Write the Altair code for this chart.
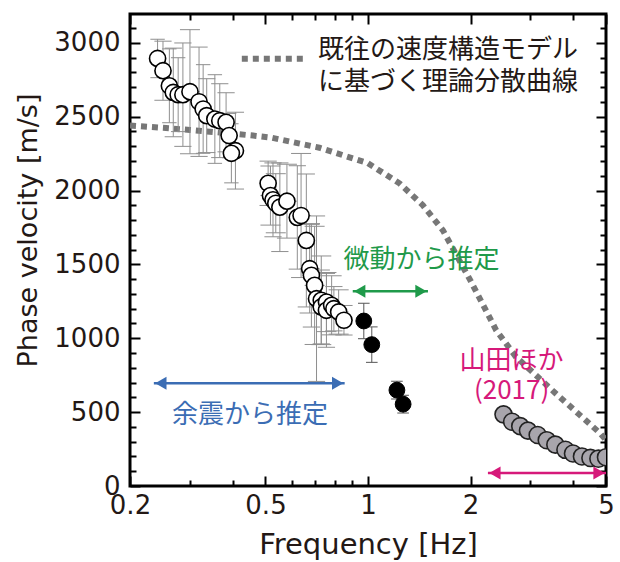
import altair as alt
import pandas as pd

# ---- data ----
# aftershock-based estimates (white circles)
ws_freq = [0.241, 0.250, 0.261, 0.268, 0.277, 0.286, 0.300, 0.319, 0.328, 0.336, 0.355, 0.367,
           0.383, 0.391, 0.408, 0.397,
           0.509, 0.517, 0.526, 0.536, 0.551, 0.578, 0.620, 0.636, 0.659, 0.674, 0.682, 0.697,
           0.706, 0.729, 0.729, 0.755, 0.755, 0.782, 0.794, 0.820, 0.850]
ws_vel = [2894, 2811, 2709, 2664, 2649, 2649, 2669, 2601, 2552, 2507, 2484, 2473,
          2462, 2372, 2270, 2252,
          2049, 1966, 1937, 1914, 1887, 1928, 1818, 1831, 1662, 1471, 1426, 1358,
          1268, 1257, 1212, 1245, 1189, 1223, 1200, 1178, 1122]
ws_err = [130, 200, 250, 300, 250, 350, 420, 370, 300, 250, 300, 250,
          200, 150, 260, 200,
          150, 200, 250, 200, 300, 250, 350, 420, 450, 300, 350, 400,
          560, 300, 250, 200, 250, 200, 150, 150, 100]
ws_ferr = [0.05, 0.06, 0.05, 0.06, 0.05, 0.06, 0.07, 0.06, 0.05, 0.06, 0.05, 0.06,
           0.06, 0.05, 0.06, 0.05,
           0.06, 0.07, 0.06, 0.07, 0.06, 0.07, 0.06, 0.07, 0.06, 0.07, 0.06, 0.07,
           0.06, 0.07, 0.06, 0.07, 0.06, 0.07, 0.06, 0.07, 0.06]

# microtremor-based estimates (black circles)
mt_freq = [0.972, 1.026, 1.216, 1.268]
mt_vel = [1117, 957, 649, 554]
mt_err = [120, 120, 60, 60]
mt_ferr = [0.04, 0.04, 0.04, 0.04]

# Yamada et al. (2017) (gray circles)
ym_freq = [2.50, 2.65, 2.80, 2.95, 3.15, 3.35, 3.55, 3.80, 4.00, 4.25, 4.50, 4.75, 5.00]
ym_vel = [485, 435, 405, 375, 345, 310, 280, 245, 220, 200, 190, 185, 195]

# theoretical dispersion curve (dashed)
cv_freq = [0.2, 0.25, 0.3, 0.4, 0.46, 0.52, 0.72, 1.0, 1.24, 1.45, 1.66, 2.0, 2.38, 2.72,
           3.2, 3.56, 4.2, 4.8, 5.0]
cv_vel = [2440, 2425, 2410, 2385, 2372, 2358, 2290, 2185, 2047, 1900, 1730, 1390, 1054, 874,
          725, 626, 478, 358, 311]

# axis ticks
x_major = [0.2, 0.5, 1, 2, 5]
x_minor = [0.3, 0.4, 0.6, 0.7, 0.8, 0.9, 3, 4]
y_major = [0, 500, 1000, 1500, 2000, 2500, 3000]
y_minor = [100, 200, 300, 400, 600, 700, 800, 900, 1100, 1200, 1300, 1400, 1600, 1700,
           1800, 1900, 2100, 2200, 2300, 2400, 2600, 2700, 2800, 2900, 3100]

# annotations
ann_text = ["既往の速度構造モデル", "に基づく理論分散曲線", "微動から推定", "余震から推定", "山田ほか", "(2017)"]
ann_x = [0.713, 0.713, 1.436, 0.450, 2.64, 2.64]
ann_y = [2950, 2738, 1527, 480, 848, 642]
ann_color = ["#231815", "#231815", "#1f9a4a", "#3b6db4", "#d6197a", "#d6197a"]
ann_align = ["left", "left", "center", "center", "center", "center"]

arr_x1 = [0.902, 0.235, 2.25]
arr_x2 = [1.50, 0.854, 5.0]
arr_y = [1318, 696, 88]
arr_color = ["#1f9a4a", "#3b6db4", "#d6197a"]

leg_x = [0.426, 0.652]
leg_y = [2892, 2892]

# ---- tables ----
W, H = 476, 472
FONT = "DejaVu Sans"
JFONT = "Noto Sans CJK JP"
INK = "#231815"

white = pd.DataFrame({"f": ws_freq, "v": ws_vel, "e": ws_err, "h": ws_ferr})
black = pd.DataFrame({"f": mt_freq, "v": mt_vel, "e": mt_err, "h": mt_ferr})
for d in (white, black):
    d["vlo"] = d["v"] - d["e"]
    d["vhi"] = d["v"] + d["e"]
    d["flo"] = d["f"] / (1 + d["h"])
    d["fhi"] = d["f"] * (1 + d["h"])
gray = pd.DataFrame({"f": ym_freq, "v": ym_vel})
curve = pd.DataFrame({"f": cv_freq, "v": cv_vel})
ann = pd.DataFrame({"t": ann_text, "f": ann_x, "v": ann_y, "c": ann_color, "a": ann_align})
arrows = pd.DataFrame({"f1": arr_x1, "f2": arr_x2, "v": arr_y, "c": arr_color})
legend = pd.DataFrame({"f": leg_x, "v": leg_y})

xs = alt.Scale(type="log", domain=[0.2, 5], nice=False)
ys = alt.Scale(domain=[0, 3195], nice=False, zero=False)


def X(field, axis=None):
    if axis is None:
        return alt.X(field, type="quantitative", scale=xs, axis=None)
    return alt.X(field, type="quantitative", scale=xs, axis=axis)


def Y(field, axis=None):
    if axis is None:
        return alt.Y(field, type="quantitative", scale=ys, axis=None)
    return alt.Y(field, type="quantitative", scale=ys, axis=axis)


# label axes
label_x_axis = alt.Axis(orient="bottom", values=x_major, ticks=False, domain=False, grid=False,
                        format="~g", labelFont=FONT, labelFontSize=26, labelColor=INK,
                        labelPadding=6, labelFlush=False, labelOverlap=False,
                        title="Frequency [Hz]", titleFont=FONT, titleFontSize=29,
                        titleFontWeight="normal", titleColor=INK, titleY=67,
                        titleBaseline="alphabetic")
label_y_axis = alt.Axis(orient="left", values=y_major, ticks=False, domain=False, grid=False,
                        format="d", labelFont=FONT, labelFontSize=26, labelColor=INK,
                        labelPadding=10, labelFlush=False, labelOverlap=False,
                        title="Phase velocity [m/s]", titleFont=FONT, titleFontSize=27,
                        titleFontWeight="normal", titleColor=INK, titleX=-94, titleY=216,
                        titleAngle=-90, titleAlign="center", titleBaseline="alphabetic")

base_curve = alt.Chart(curve).mark_line(
    color="#777777", strokeWidth=6, strokeDash=[6, 5], clip=True
).encode(x=X("f", label_x_axis), y=Y("v", label_y_axis))


def tick_layer(x_orient, y_orient, xv, yv, size):
    ax = alt.Axis(orient=x_orient, offset=-H, values=xv, labels=False, domain=False, grid=False,
                  ticks=True, tickSize=size, tickWidth=2, tickColor="black", title=None)
    ay = alt.Axis(orient=y_orient, offset=-W, values=yv, labels=False, domain=False, grid=False,
                  ticks=True, tickSize=size, tickWidth=2, tickColor="black", title=None)
    return alt.Chart(curve).mark_point(opacity=0).encode(x=X("f", ax), y=Y("v", ay))


ticks = [
    tick_layer("top", "right", x_major, y_major, 10),
    tick_layer("top", "right", x_minor, y_minor, 6),
    tick_layer("bottom", "left", x_major, y_major, 10),
    tick_layer("bottom", "left", x_minor, y_minor, 6),
]


def errbars(df, color):
    b = alt.Chart(df)
    v = b.mark_rule(color=color, strokeWidth=1, clip=True).encode(x=X("f"), y=Y("vlo"), y2="vhi")
    hc = b.mark_rule(color=color, strokeWidth=1, clip=True).encode(x=X("flo"), x2="fhi", y=Y("v"))
    lo = b.mark_rule(color=color, strokeWidth=1, clip=True).encode(x=X("flo"), x2="fhi", y=Y("vlo"))
    hi = b.mark_rule(color=color, strokeWidth=1, clip=True).encode(x=X("flo"), x2="fhi", y=Y("vhi"))
    return [v, hc, lo, hi]


white_pts = alt.Chart(white).mark_circle(
    size=260, color="white", stroke="black", strokeWidth=1.6, opacity=1, clip=True
).encode(x=X("f"), y=Y("v"))
black_pts = alt.Chart(black).mark_circle(
    size=250, color="black", stroke="black", strokeWidth=1, opacity=1, clip=True
).encode(x=X("f"), y=Y("v"))
gray_pts = alt.Chart(gray).mark_circle(
    size=290, color="#a8a5ac", stroke="#222222", strokeWidth=1.6, opacity=1, clip=True
).encode(x=X("f"), y=Y("v"))

legend_line = alt.Chart(legend).mark_line(
    color="#777777", strokeWidth=6, strokeDash=[6, 5]
).encode(x=X("f"), y=Y("v"))

arrow_lines = alt.Chart(arrows).mark_rule(strokeWidth=2.5).encode(
    x=X("f1"), x2="f2", y=Y("v"), color=alt.Color("c:N", scale=None))
arrow_left = alt.Chart(arrows).mark_point(
    shape="triangle-left", filled=True, size=170, opacity=1, xOffset=7
).encode(x=X("f1"), y=Y("v"), color=alt.Color("c:N", scale=None))
arrow_right = alt.Chart(arrows).mark_point(
    shape="triangle-right", filled=True, size=170, opacity=1, xOffset=-7
).encode(x=X("f2"), y=Y("v"), color=alt.Color("c:N", scale=None))

texts_left = alt.Chart(ann[ann["a"] == "left"]).mark_text(
    font=JFONT, fontSize=26, align="left", baseline="middle"
).encode(x=X("f"), y=Y("v"), text="t:N", color=alt.Color("c:N", scale=None))
texts_center = alt.Chart(ann[ann["a"] == "center"]).mark_text(
    font=JFONT, fontSize=26, align="center", baseline="middle"
).encode(x=X("f"), y=Y("v"), text="t:N", color=alt.Color("c:N", scale=None))

layers = [base_curve] + errbars(white, "#8f8f8f") + errbars(black, "#555555") + [
    white_pts, black_pts, gray_pts, legend_line, arrow_lines, arrow_left, arrow_right,
    texts_left, texts_center] + ticks

chart = alt.layer(*layers).resolve_axis(x="independent", y="independent").properties(
    width=W, height=H,
    padding={"left": 130, "top": 14, "right": 14, "bottom": 76},
    autosize=alt.AutoSizeParams(type="none"),
    background="white",
).configure_view(stroke="black", strokeWidth=3)

chart.save("out.html", embed_options={"renderer": "svg", "actions": False})
